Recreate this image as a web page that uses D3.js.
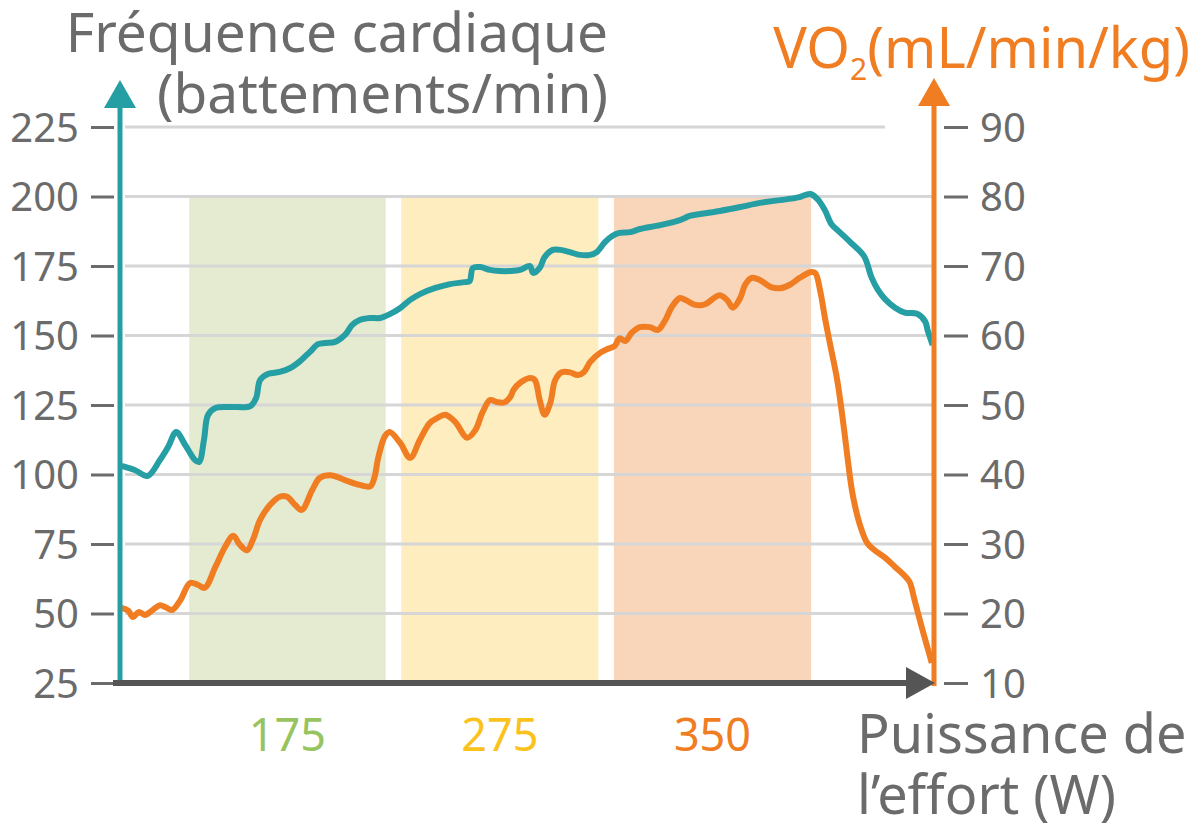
<!DOCTYPE html>
<meta charset="utf-8">
<style>
  body { margin: 0; background: #fff; }
  svg text { font-family: "Noto Sans", sans-serif; }
  .axis text { fill: #6b6b6b; font-size: 40px; }
  .axis .tick line { stroke: #6b6b6b; stroke-width: 3; }
</style>
<svg class="chart"></svg>
<script src="https://d3js.org/d3.v7.min.js"></script>
<script>

  // time axis: percent of test duration
  var hrTime = [0.2, 1.8, 3.4, 4.9, 5.9, 6.9, 8.0, 9.2, 9.7, 10.3, 10.8, 11.7, 13.5, 16.0, 16.7, 17.2, 18.2, 19.6,
    20.9, 22.1, 23.3, 24.3, 25.2, 26.4, 27.6, 28.5, 29.4, 30.7, 31.9, 33.1, 34.4, 35.6, 36.8, 38.7, 40.5, 42.3,
    42.9, 43.3, 44.2, 45.4, 46.6, 47.9, 49.1, 50.3, 50.7, 51.5, 52.1, 53.1, 54.0, 55.2, 56.4, 57.7, 58.5, 59.5,
    60.4, 61.3, 62.6, 63.8, 66.3, 68.7, 69.9, 71.2, 73.6, 76.1, 78.5, 81.0, 82.8, 83.4, 84.7, 85.6, 86.5, 87.3,
    88.0, 89.6, 91.3, 92.2, 93.0, 93.9, 95.1, 96.3, 97.8, 98.8, 99.1, 99.7];
  var hrValues = [103.1, 101.6, 99.5, 105.2, 109.9, 115.3, 110.6, 105.2, 104.5, 112.4, 121.4, 123.9, 124.3, 124.6,
    127.5, 134.0, 136.2, 136.9, 138.3, 140.8, 144.1, 146.9, 147.3, 147.7, 150.2, 153.8, 155.6, 156.3, 156.3,
    157.7, 159.9, 162.8, 164.9, 167.1, 168.5, 169.2, 169.6, 174.3, 174.6, 173.6, 173.2, 173.2, 173.6, 175.0,
    172.5, 174.3, 178.2, 180.8, 180.8, 180.0, 179.0, 179.0, 180.0, 183.6, 185.8, 186.9, 187.2, 188.3, 189.7,
    191.5, 193.0, 193.7, 194.8, 196.2, 197.7, 198.7, 199.4, 199.8, 200.9, 199.0, 195.0, 190.0,
    188.0, 183.6, 178.5, 171.0, 166.4, 163.0, 160.0, 158.2, 157.8, 155.0, 151.8, 146.6];

  var vo2Time = [0.2, 1.0, 1.6, 2.3, 3.1, 3.9, 4.9, 5.6, 6.4, 7.4, 8.6, 9.6, 10.4, 11.7, 12.9, 13.9, 14.7, 15.6,
    16.3, 17.2, 18.4, 19.6, 20.5, 21.5, 22.3, 23.6, 24.5, 25.8, 27.6, 29.4, 30.7, 31.2, 31.7, 32.5, 33.1, 34.4,
    35.6, 36.8, 38.0, 38.9, 39.9, 41.1, 42.6, 43.6, 44.5, 45.4, 46.3, 47.2, 47.9, 48.3, 49.1, 50.3, 50.9, 51.5,
    52.1, 52.8, 53.4, 54.2, 55.2, 56.2, 56.9, 57.7, 58.9, 59.9, 60.7, 61.3, 62.0, 62.8, 63.8, 65.0, 66.0, 66.9,
    67.7, 68.7, 69.4, 70.6, 71.8, 73.0, 73.6, 74.5, 75.2, 76.1, 76.7, 77.5, 78.5, 79.8, 81.0, 82.2, 83.4, 84.7,
    85.3, 85.9, 86.5, 87.1, 88.0, 88.7, 89.3, 89.9, 90.8, 91.7, 92.6, 93.9, 95.1, 96.3, 96.9, 97.5, 98.4, 99.1,
    99.6];
  var vo2Values = [20.8, 20.4, 19.5, 20.2, 19.8, 20.4, 21.2, 20.9, 20.5, 21.9, 24.4, 24.1, 23.7, 26.7, 29.6, 31.2,
    29.9, 29.1, 30.6, 33.5, 35.6, 36.8, 36.8, 35.6, 34.9, 37.8, 39.5, 39.9, 39.2, 38.5, 38.3, 39.5, 42.5, 45.5,
    46.1, 44.5, 42.4, 45.0, 47.4, 48.1, 48.6, 47.6, 45.3, 46.4, 49.0, 50.7, 50.4, 50.4, 51.2, 52.2, 53.2, 53.9,
    53.6, 50.7, 48.6, 50.3, 53.6, 54.7, 54.7, 54.3, 54.7, 56.2, 57.5, 58.1, 58.5, 59.6, 59.2, 60.4, 61.2, 61.2,
    60.8, 62.2, 64.1, 65.4, 65.1, 64.4, 64.5, 65.5, 65.8, 65.1, 64.0, 65.4, 67.3, 68.3, 68.0, 67.0, 66.8, 67.3,
    68.3, 69.1, 69.0, 66.5, 62.5, 58.9, 53.6, 47.8, 42.1, 37.1, 32.7, 30.1, 29.1, 28.0, 26.7, 25.4, 24.5, 21.9,
    17.9, 15.0, 12.9];

  var bandPower = ["175", "275", "350"];
  var bandStart = [8.5, 34.5, 60.6];
  var bandEnd   = [32.6, 58.7, 84.8];
  var bandFill  = ["#e4ebd0", "#fdedbf", "#f9d5b9"];
  var bandText  = ["#97c45f", "#fbc21c", "#f07d22"];

  var hrTicks  = [25, 50, 75, 100, 125, 150, 175, 200, 225];
  var vo2Ticks = [10, 20, 30, 40, 50, 60, 70, 80, 90];

  var teal   = "#259ea4";
  var orange = "#f07d22";
  var gray   = "#6b6b6b";

  var width  = 1200;
  var height = 834;

  var x   = d3.scaleLinear().domain([0, 100]).range([120, 935]);
  var yHR = d3.scaleLinear().domain([25, 225]).range([683, 127]);
  var yVO = d3.scaleLinear().domain([10, 90]).range([683, 127]);

  var svg = d3.select(".chart")
      .attr("width", width)
      .attr("height", height);

  // effort bands
  var bands = bandPower.map(function(p, i) {
    return { power: p, start: bandStart[i], end: bandEnd[i], fill: bandFill[i], text: bandText[i] };
  });

  svg.append("g").selectAll("rect")
      .data(bands)
    .enter().append("rect")
      .attr("x", function(d) { return x(d.start); })
      .attr("y", yHR(200))
      .attr("width", function(d) { return x(d.end) - x(d.start); })
      .attr("height", yHR(25) - yHR(200))
      .attr("fill", function(d) { return d.fill; });

  // grid
  svg.append("g").selectAll("line")
      .data(hrTicks.slice(1))
    .enter().append("line")
      .attr("x1", 125)
      .attr("x2", function(d) { return d === 225 ? 885 : 933; })
      .attr("y1", function(d) { return yHR(d); })
      .attr("y2", function(d) { return yHR(d); })
      .attr("stroke", "#d6d6d6")
      .attr("stroke-width", 3);

  // curves
  var hrLine = d3.line()
      .x(function(d) { return x(d[0]); })
      .y(function(d) { return yHR(d[1]); })
      .curve(d3.curveCatmullRom.alpha(0.5));

  var voLine = d3.line()
      .x(function(d) { return x(d[0]); })
      .y(function(d) { return yVO(d[1]); })
      .curve(d3.curveCatmullRom.alpha(0.5));

  svg.append("path")
      .datum(d3.zip(vo2Time, vo2Values))
      .attr("d", voLine)
      .attr("fill", "none")
      .attr("stroke", orange)
      .attr("stroke-width", 6)
      .attr("stroke-linejoin", "round");

  svg.append("path")
      .datum(d3.zip(hrTime, hrValues))
      .attr("d", hrLine)
      .attr("fill", "none")
      .attr("stroke", teal)
      .attr("stroke-width", 6)
      .attr("stroke-linejoin", "round");

  // tick axes
  var leftAxis = svg.append("g")
      .attr("class", "axis")
      .attr("transform", "translate(114,0)")
      .call(d3.axisLeft(yHR).tickValues(hrTicks).tickSize(23).tickPadding(12));

  var rightAxis = svg.append("g")
      .attr("class", "axis")
      .attr("transform", "translate(944,0)")
      .call(d3.axisRight(yVO).tickValues(vo2Ticks).tickSize(24).tickPadding(12));

  [leftAxis, rightAxis].forEach(function(a) {
    a.select(".domain").remove();
    a.selectAll("text").attr("dy", "0.36em");
  });

  // axis lines with arrows
  svg.append("line")
      .attr("x1", x(0)).attr("x2", x(0))
      .attr("y1", yHR(25) + 3).attr("y2", 104)
      .attr("stroke", teal).attr("stroke-width", 5);
  svg.append("path")
      .attr("d", d3.line()([[x(0) - 16, 108], [x(0), 80], [x(0) + 16, 108]]))
      .attr("fill", teal);

  svg.append("line")
      .attr("x1", x(100) - 1).attr("x2", x(100) - 1)
      .attr("y1", yVO(10) + 3).attr("y2", 102)
      .attr("stroke", orange).attr("stroke-width", 5);
  svg.append("path")
      .attr("d", d3.line()([[x(100) - 17, 106], [x(100) - 1, 78], [x(100) + 15, 106]]))
      .attr("fill", orange);

  svg.append("line")
      .attr("x1", x(0) - 7).attr("x2", 910)
      .attr("y1", yHR(25)).attr("y2", yHR(25))
      .attr("stroke", "#555").attr("stroke-width", 6);
  svg.append("path")
      .attr("d", d3.line()([[906, yHR(25) - 16], [x(100), yHR(25)], [906, yHR(25) + 16]]))
      .attr("fill", "#555");

  // band labels
  svg.append("g").selectAll("text")
      .data(bands)
    .enter().append("text")
      .attr("x", function(d) { return x((d.start + d.end) / 2); })
      .attr("y", 751)
      .attr("text-anchor", "middle")
      .style("font-size", "45px")
      .attr("fill", function(d) { return d.text; })
      .text(function(d) { return d.power; });

  // titles
  var hrTitle = svg.append("text")
      .attr("text-anchor", "end")
      .attr("fill", gray)
      .style("font-size", "55px");
  hrTitle.append("tspan").attr("x", 608).attr("y", 52).text("Fréquence cardiaque");
  hrTitle.append("tspan").attr("x", 608).attr("y", 113).text("(battements/min)");

  var voTitle = svg.append("text")
      .attr("x", 1190)
      .attr("y", 68)
      .attr("text-anchor", "end")
      .attr("fill", orange)
      .style("font-size", "56px");
  voTitle.append("tspan").text("VO");
  voTitle.append("tspan").attr("dy", 12).style("font-size", "30px").text("2");
  voTitle.append("tspan").attr("dy", -12).text("(mL/min/kg)");

  var xTitle = svg.append("text")
      .attr("fill", gray)
      .style("font-size", "54px");
  xTitle.append("tspan").attr("x", 857).attr("y", 753).text("Puissance de");
  xTitle.append("tspan").attr("x", 857).attr("y", 814).text("l’effort (W)");

</script>
